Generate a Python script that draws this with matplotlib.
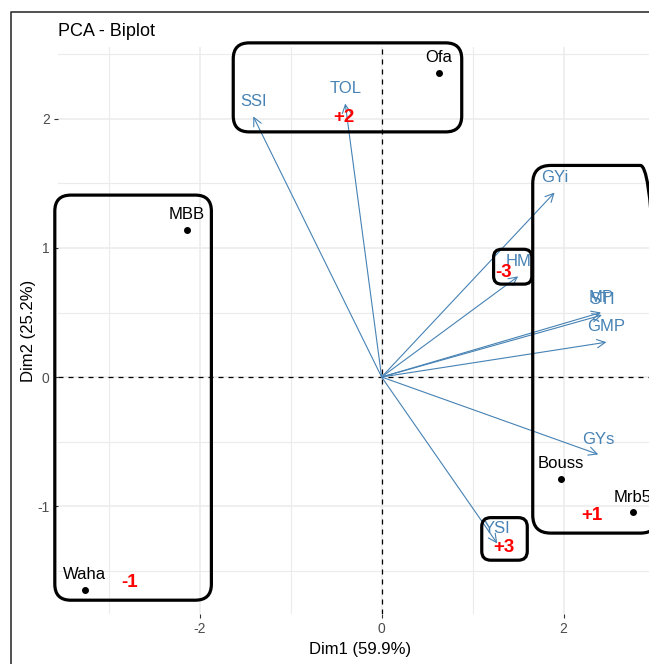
import matplotlib
matplotlib.use("Agg")
import matplotlib.pyplot as plt
from matplotlib.patches import FancyBboxPatch, FancyArrowPatch
from matplotlib.lines import Line2D
from matplotlib.ticker import MultipleLocator

plt.rcParams['font.family'] = ['Liberation Sans', 'DejaVu Sans']
plt.rcParams['axes.unicode_minus'] = False

# Individuals (genotypes)
ind_names = ["Ofa", "MBB", "Waha", "Bouss", "Mrb5"]
ind_dim1 = [0.63, -2.14, -3.26, 1.97, 2.76]
ind_dim2 = [2.36, 1.14, -1.65, -0.79, -1.05]

# Variables (indices)
var_names = ["SSI", "TOL", "GYi", "HM", "MP", "STI", "GMP", "GYs", "YSI"]
var_dim1 = [-1.41, -0.40, 1.90, 1.50, 2.41, 2.42, 2.47, 2.38, 1.27]
var_dim2 = [2.02, 2.12, 1.43, 0.78, 0.50, 0.48, 0.27, -0.60, -1.29]

# Group annotations (red marks) and their boxes
group_labels = ["+2", "-3", "+3", "+1", "-1"]
group_dim1 = [-0.42, 1.34, 1.34, 2.31, -2.77]
group_dim2 = [2.01, 0.81, -1.32, -1.07, -1.59]

# box extents: x0, x1, y0, y1 (data units) and corner radius (px)
box_x0 = [-1.63, -3.59, 1.66, 1.23, 1.10]
box_x1 = [0.88, -1.87, 3.04, 1.65, 1.60]
box_y0 = [1.90, -1.73, -1.21, 0.72, -1.42]
box_y1 = [2.59, 1.41, 1.64, 0.99, -1.09]
box_r = [16, 16, 18, 8, 9]

fig = plt.figure(figsize=(6.49, 6.64), dpi=100)
ax = fig.add_axes([58 / 649, 1 - 614 / 664, (662 - 58) / 649, (614 - 47) / 664])

ax.set_xlim(-3.555, 3.08)
ax.set_ylim(-1.837, 2.558)

# theme_minimal look
for s in ax.spines.values():
    s.set_visible(False)
ax.xaxis.set_major_locator(MultipleLocator(2))
ax.xaxis.set_minor_locator(MultipleLocator(1))
ax.yaxis.set_major_locator(MultipleLocator(1))
ax.yaxis.set_minor_locator(MultipleLocator(0.5))
ax.grid(which='major', color='#EBEBEB', lw=1.1)
ax.grid(which='minor', color='#EBEBEB', lw=0.8)
ax.set_axisbelow(True)
ax.tick_params(which='major', length=3, width=0.8, color='#333333',
               labelcolor='#4D4D4D', labelsize=10, pad=3)
ax.tick_params(which='minor', length=0)

ax.axhline(0, color='black', lw=0.9, ls=(0, (4, 4)), zorder=1)
ax.axvline(0, color='black', lw=0.9, ls=(0, (4, 4)), zorder=1)

ax.set_xlabel("Dim1 (59.9%)", fontsize=12, labelpad=4)
ax.set_ylabel("Dim2 (25.2%)", fontsize=12, labelpad=1)

# variable arrows
for name, x, y in zip(var_names, var_dim1, var_dim2):
    arr = FancyArrowPatch((0, 0), (x, y), arrowstyle='->,head_length=0.6,head_width=0.3',
                          mutation_scale=10, color='steelblue', lw=0.8,
                          shrinkA=0, shrinkB=0, zorder=3)
    ax.add_patch(arr)
    ax.annotate(name, (x, y), xytext=(0, 11), textcoords='offset points',
                ha='center', va='center', fontsize=12, color='steelblue', zorder=4)

# individuals
ax.plot(ind_dim1, ind_dim2, 'o', color='black', ms=4, zorder=4)
for name, x, y in zip(ind_names, ind_dim1, ind_dim2):
    ax.annotate(name, (x, y), xytext=(0, 11), textcoords='offset points',
                ha='center', va='center', fontsize=12, color='black', zorder=4)

# boxes
aspect = (91 / 129)
for x0, x1, y0, y1, r in zip(box_x0, box_x1, box_y0, box_y1, box_r):
    p = FancyBboxPatch((x0, y0), x1 - x0, y1 - y0,
                       boxstyle=f"round,pad=0,rounding_size={r / 91:.3f}",
                       mutation_aspect=aspect, fill=False, ec='black', lw=2.3,
                       clip_on=False, zorder=5)
    ax.add_patch(p)

# group marks
for lab, x, y in zip(group_labels, group_dim1, group_dim2):
    ax.text(x, y, lab, color='red', fontsize=13.5, fontweight='bold',
            ha='center', va='center', zorder=6)

fig.text(58 / 649, 1 - 31 / 664, "PCA - Biplot", fontsize=13, ha='left', va='center')

# screenshot frame
fig.add_artist(Line2D([11 / 649, 11 / 649, 1.0], [0.0, 1 - 12 / 664, 1 - 12 / 664],
                      transform=fig.transFigure, color='#333333', lw=1.2))

plt.savefig("out.png", dpi=100)
